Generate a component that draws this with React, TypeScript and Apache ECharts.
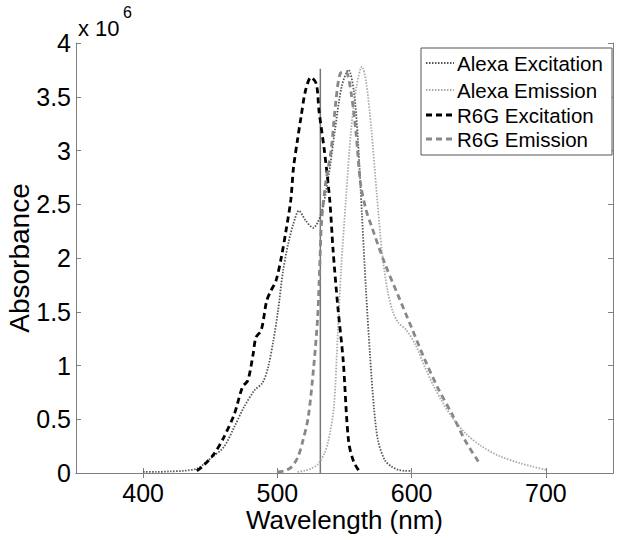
import React, { useEffect, useRef } from "react";
import * as echarts from "echarts";

const xTicks = [400, 500, 600, 700];
const yMax = 4;

const seriesNames = ["Alexa Excitation", "Alexa Emission", "R6G Excitation", "R6G Emission"];

const alexaExWl = [400, 410, 420, 430, 440, 445, 450.6, 460, 468, 475, 483, 489, 493, 497, 500.5, 504, 508, 512, 516, 521, 526.6, 532.5, 538, 543, 548, 553, 557, 560, 563, 566, 569, 572, 575, 580, 585, 590, 595, 600];
const alexaExVal = [0.01, 0.01, 0.015, 0.02, 0.04, 0.08, 0.14, 0.24, 0.43, 0.61, 0.77, 0.84, 0.98, 1.23, 1.51, 1.86, 2.13, 2.32, 2.44, 2.35, 2.28, 2.41, 2.75, 3.2, 3.6, 3.75, 3.55, 3.1, 2.4, 1.7, 1.1, 0.6, 0.3, 0.12, 0.06, 0.03, 0.02, 0.02];

const alexaEmWl = [515, 520, 525, 530, 535, 538, 542, 545, 547.5, 551, 555, 559, 563, 566, 570, 574, 578, 582, 586, 590, 596, 603, 610, 616, 622, 630, 640, 652, 665, 681, 690, 700];
const alexaEmVal = [0.01, 0.02, 0.04, 0.08, 0.18, 0.3, 0.6, 1.3, 1.9, 2.54, 3.2, 3.6, 3.78, 3.65, 3.2, 2.6, 2.05, 1.7, 1.5, 1.4, 1.33, 1.19, 0.98, 0.82, 0.68, 0.52, 0.37, 0.25, 0.16, 0.09, 0.06, 0.03];

const r6gExWl = [440, 445, 453, 460, 468, 474, 478, 482, 484, 488, 492, 495, 499, 503, 506.5, 510, 512, 515, 517.6, 521, 525, 529, 531, 535, 539, 541.5, 545, 549, 553, 557, 562];
const r6gExVal = [0.02, 0.07, 0.18, 0.33, 0.55, 0.8, 0.86, 1.11, 1.26, 1.33, 1.6, 1.69, 1.79, 2.01, 2.26, 2.54, 2.84, 3.1, 3.31, 3.56, 3.68, 3.62, 3.37, 3.0, 2.54, 2.07, 1.55, 1.05, 0.3, 0.1, 0.0];

const r6gEmWl = [500, 505, 510, 515, 519, 523, 527, 530, 531.5, 533, 536, 540, 543.7, 547, 551, 555, 558.6, 562, 566, 570, 580, 590, 600, 610, 620, 630, 640, 650];
const r6gEmVal = [0.01, 0.02, 0.05, 0.14, 0.3, 0.52, 0.98, 1.45, 1.91, 2.35, 2.7, 3.0, 3.47, 3.72, 3.73, 3.53, 3.16, 2.69, 2.45, 2.3, 1.95, 1.65, 1.35, 1.05, 0.78, 0.55, 0.3, 0.1];

const laserWl = 532;
const laserTop = 3.76;

const zip = (a: number[], b: number[]) => a.map((x, i) => [x, b[i]]);

const FONT = "'Liberation Sans', Arial, sans-serif";
const AXIS_COLOR = "#7f7f7f";

const styles = [
  { color: "#555", width: 1.8, dash: [1.5, 1.5] },
  { color: "#aaa", width: 1.8, dash: [1.5, 1.5] },
  { color: "#000", width: 2.8, dash: [6, 4] },
  { color: "#888", width: 2.8, dash: [6, 4] },
];

export default function App() {
  const ref = useRef<HTMLDivElement>(null);
  useEffect(() => {
    if (!ref.current) return;
    const chart = echarts.init(ref.current, undefined, { renderer: "svg" });
    const tickCommon = { show: true, inside: true, length: 5, lineStyle: { color: AXIS_COLOR } };
    const lineCommon = { show: true, lineStyle: { color: AXIS_COLOR, width: 1 } };
    const dataSets = [
      zip(alexaExWl, alexaExVal),
      zip(alexaEmWl, alexaEmVal),
      zip(r6gExWl, r6gExVal),
      zip(r6gEmWl, r6gEmVal),
    ];

    const legendX = 421;
    const legendY = 48;
    const legendW = 191;
    const legendH = 107;
    const rowY = [63, 90, 115, 139];
    const legendGraphics: any[] = [
      {
        type: "rect",
        shape: { x: legendX, y: legendY, width: legendW, height: legendH },
        style: { fill: "#fff", stroke: "#555", lineWidth: 1 },
        z: 100,
      },
    ];
    seriesNames.forEach((name, i) => {
      legendGraphics.push({
        type: "line",
        shape: { x1: legendX + 5, y1: rowY[i], x2: legendX + 33, y2: rowY[i] },
        style: { stroke: styles[i].color, lineWidth: styles[i].width, lineDash: styles[i].dash },
        z: 101,
      });
      legendGraphics.push({
        type: "text",
        x: legendX + 36,
        y: rowY[i],
        style: {
          text: name,
          fontSize: 20.5,
          fontFamily: FONT,
          fill: "#000",
          verticalAlign: "middle",
          align: "left",
        },
        z: 101,
      });
    });

    chart.setOption({
      animation: false,
      backgroundColor: "#ffffff",
      textStyle: { fontFamily: FONT },
      grid: { left: 76, top: 43, right: 13, bottom: 67, containLabel: false, outerBoundsMode: "none" },
      xAxis: [
        {
          type: "value",
          min: 350,
          max: 750,
          position: "bottom",
          name: "Wavelength (nm)",
          nameLocation: "middle",
          nameGap: 34,
          nameMoveOverlap: false,
          nameTextStyle: { fontSize: 26, color: "#000", fontFamily: FONT },
          axisLine: lineCommon,
          axisTick: { ...tickCommon, customValues: xTicks },
          axisLabel: { customValues: xTicks, fontSize: 25, color: "#000", margin: 7, fontFamily: FONT },
          splitLine: { show: false },
        },
        {
          type: "value",
          min: 350,
          max: 750,
          position: "top",
          axisLine: lineCommon,
          axisTick: { ...tickCommon, customValues: xTicks },
          axisLabel: { show: false },
          splitLine: { show: false },
        },
      ],
      yAxis: [
        {
          type: "value",
          min: 0,
          max: yMax,
          interval: 0.5,
          position: "left",
          name: "Absorbance",
          nameLocation: "middle",
          nameGap: 43,
          nameMoveOverlap: false,
          nameRotate: 90,
          nameTextStyle: { fontSize: 28, color: "#000", fontFamily: FONT },
          axisLine: lineCommon,
          axisTick: tickCommon,
          axisLabel: { fontSize: 25, color: "#000", margin: 5, fontFamily: FONT },
          splitLine: { show: false },
        },
        {
          type: "value",
          min: 0,
          max: yMax,
          interval: 0.5,
          position: "right",
          axisLine: lineCommon,
          axisTick: tickCommon,
          axisLabel: { show: false },
          splitLine: { show: false },
        },
      ],
      graphic: [
        {
          type: "text",
          x: 78,
          y: 17,
          style: { text: "x 10", fontSize: 22, fill: "#000", fontFamily: FONT },
        },
        {
          type: "text",
          x: 123,
          y: 4,
          style: { text: "6", fontSize: 16, fill: "#000", fontFamily: FONT },
        },
        ...legendGraphics,
      ],
      series: [
        {
          name: "Laser",
          type: "line",
          data: [[laserWl, 0], [laserWl, laserTop]],
          symbol: "none",
          lineStyle: { color: "#777", width: 1.5 },
          z: 1,
          silent: true,
        },
        ...seriesNames.map((name, i) => ({
          name,
          type: "line",
          data: dataSets[i],
          symbol: "none",
          smooth: 0.3,
          lineStyle: { color: styles[i].color, width: styles[i].width, type: styles[i].dash },
          itemStyle: { color: styles[i].color },
        })),
      ],
    });
    return () => chart.dispose();
  }, []);
  return <div ref={ref} style={{ width: 626, height: 540, position: "absolute", left: 0, top: 0 }} />;
}
